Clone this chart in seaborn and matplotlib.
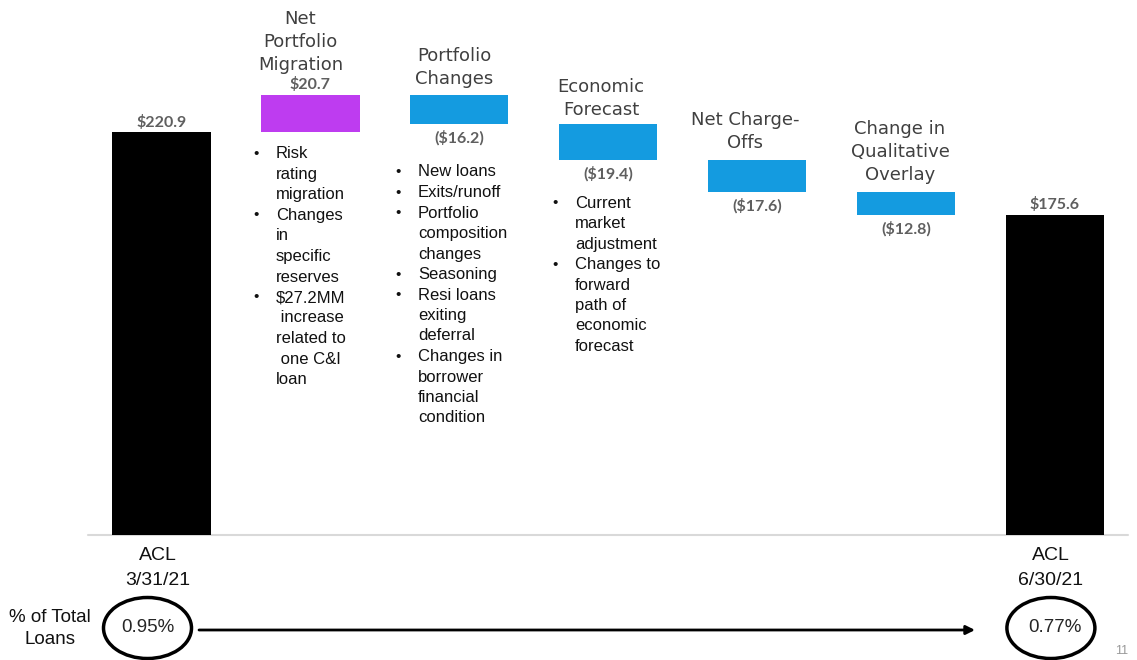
import matplotlib
matplotlib.use("Agg")
import matplotlib.pyplot as plt
from matplotlib.patches import Ellipse
import pandas as pd
import seaborn as sns

# waterfall data ($MM)
categories = ["ACL 3/31/21", "Net Portfolio Migration", "Portfolio Changes",
              "Economic Forecast", "Net Charge-Offs",
              "Change in Qualitative Overlay", "ACL 6/30/21"]
amounts = [220.9, 20.7, -16.2, -19.4, -17.6, -12.8, 175.6]
is_total = [True, False, False, False, False, False, True]
value_labels = ["$220.9", "$20.7", "($16.2)", "($19.4)", "($17.6)",
                "($12.8)", "$175.6"]
step_titles = [[], ["Net", "Portfolio", "Migration"], ["Portfolio", "Changes"],
               ["Economic", "Forecast"], ["Net Charge-", "Offs"],
               ["Change in", "Qualitative", "Overlay"], []]
total_names = [["ACL", "3/31/21"], ["ACL", "6/30/21"]]
pct_of_loans = ["0.95%", "0.77%"]
drivers = {
    1: [["Risk", "rating", "migration"],
        ["Changes", "in", "specific", "reserves"],
        ["$27.2MM", " increase", "related to", " one C&I", "loan"]],
    2: [["New loans"], ["Exits/runoff"],
        ["Portfolio", "composition", "changes"], ["Seasoning"],
        ["Resi loans", "exiting", "deferral"],
        ["Changes in", "borrower", "financial", "condition"]],
    3: [["Current", "market", "adjustment"],
        ["Changes to", "forward", "path of", "economic", "forecast"]],
}

BLACK, PURPLE, BLUE = "#000000", "#BE3CF0", "#149BE0"
TITLE_C, LABEL_C = "#404040", "#5f5f5f"

plt.rcParams["text.parse_math"] = False
sns.set_style("white")

# page layout: axes fill the whole figure, baseline at pixel row 534
PX_X, PX_Y, X0, Y0 = 148.9, 1.82, 161.5, 534.5
def xp(p):
    return (p - X0) / PX_X
def yp(p):
    return (Y0 - p) / PX_Y

# floating bar geometry
bottoms, heights, colors = [], [], []
running = 0.0
for amt, tot in zip(amounts, is_total):
    if tot:
        bottoms.append(0.0)
        heights.append(amt)
        colors.append(BLACK)
        running = amt
    else:
        bottoms.append(min(running, running + amt))
        heights.append(abs(amt))
        colors.append(PURPLE if amt > 0 else BLUE)
        running += amt
tops = [b + h for b, h in zip(bottoms, heights)]

df = pd.DataFrame({"step": categories, "height": heights})

fig = plt.figure(figsize=(11.37, 6.6), dpi=100)
ax = fig.add_axes([0, 0, 1, 1])
sns.barplot(data=df, x="step", y="height", order=categories, bottom=bottoms,
            color=BLACK, width=0.66, errorbar=None, linewidth=0, ax=ax)
for patch, c in zip(ax.patches, colors):
    patch.set_facecolor(c)
    patch.set_edgecolor(c)

ax.set_xlim(xp(0), xp(1137))
ax.set_ylim(yp(660), yp(0))
ax.axis("off")
ax.axhline(0, xmin=88 / 1137, xmax=1128 / 1137, color="#d9d9d9", lw=1.5, zorder=0)

# value labels
for i, (lab, amt) in enumerate(zip(value_labels, amounts)):
    if amt >= 0:
        y, dy = tops[i], 10
    else:
        y, dy = bottoms[i], -14
    ax.annotate(lab, (i, y), xytext=(0, dy * 0.72), textcoords="offset points",
                ha="center", va="center", fontsize=11.5, fontweight="bold",
                family="Lato", color=LABEL_C)

# step titles above the bars
title_gap_px = [0, 30, 16, 14, 17, 17, 0]
title_dx_px = [0, -10, -5, -7, -12, -6, 0]
TSTEP = 23
for i, lines in enumerate(step_titles):
    n = len(lines)
    for k, line in enumerate(lines):
        up = title_gap_px[i] + (n - 1 - k) * TSTEP
        ax.text(i + title_dx_px[i] / PX_X, tops[i] + up / PX_Y, line,
                ha="center", va="center", fontsize=13, family="DejaVu Sans",
                color=TITLE_C)

# bullet lists under the bars
bullet_cols = {1: (256, 276, 154), 2: (398, 418, 172), 3: (555, 575, 203)}
BSTEP = 20.5
for i, items in drivers.items():
    bx, tx, y0 = bullet_cols[i]
    row = 0
    for item in items:
        for k, line in enumerate(item):
            y = yp(y0 + row * BSTEP)
            if k == 0:
                ax.text(xp(bx), y, "•", ha="center", va="center", fontsize=11,
                        family="Liberation Sans", color="#111111")
            ax.text(xp(tx), y, line, ha="left", va="center", fontsize=12,
                    family="Liberation Sans", color="#111111")
            row += 1

# total bar names and % of loans
for j, (pos, names) in enumerate(zip([0, len(categories) - 1], total_names)):
    for k, line in enumerate(names):
        ax.text(pos - 4 / PX_X, yp(556 + k * 24.5), line, ha="center",
                va="center", fontsize=14, family="Liberation Sans", color="#111111")
    cx = pos - [14, 4][j] / PX_X
    ax.add_patch(Ellipse((cx, yp(628)), 88 / PX_X, 61 / PX_Y, fill=False,
                         lw=2.5, ec="black"))
    ax.text(cx + [0, 4][j] / PX_X, yp(628), pct_of_loans[j], ha="center",
            va="center", fontsize=13.5, family="Liberation Sans", color="#262626")

ax.text(xp(50), yp(617), "% of Total", ha="center", va="center", fontsize=13.5,
        family="Liberation Sans", color="#111111")
ax.text(xp(50), yp(640), "Loans", ha="center", va="center", fontsize=13.5,
        family="Liberation Sans", color="#111111")

ax.annotate("", xy=(xp(975), yp(630)), xytext=(xp(199), yp(630)),
            arrowprops=dict(arrowstyle="-|>", lw=2, color="black",
                            mutation_scale=13, shrinkA=0, shrinkB=0))

# slide page number
ax.text(xp(1122), yp(651), "11", ha="center", va="center", fontsize=9,
        family="Liberation Sans", color="#999999")

fig.savefig("out.png", dpi=100)
